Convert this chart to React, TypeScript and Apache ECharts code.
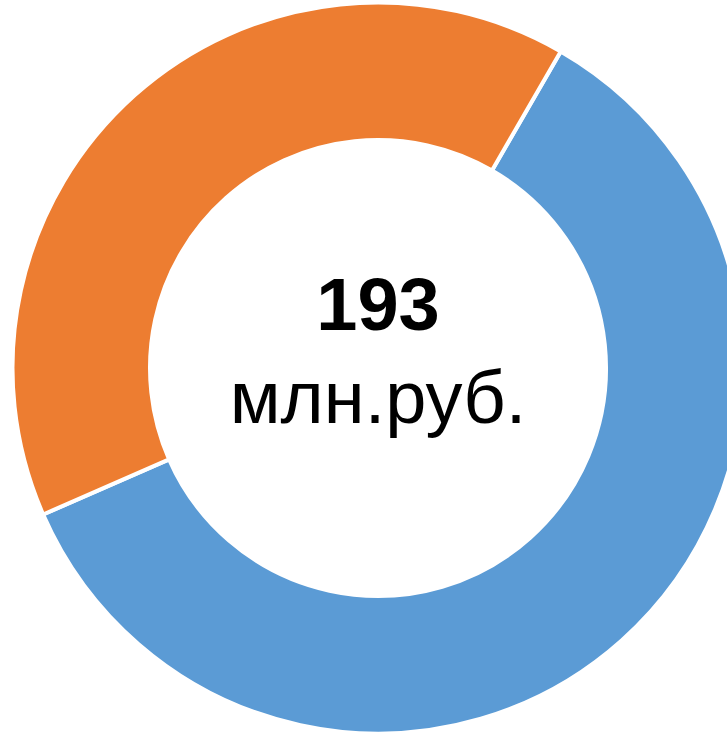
import React, { useEffect, useRef } from "react";
import * as echarts from "echarts";

const categories = ["Категория 1", "Категория 2"];
const values = [116, 77];
const colors = ["#5B9BD5", "#ED7D31"];
const totalLabel = "193";
const unitLabel = "млн.руб.";

export default function App() {
  const ref = useRef<HTMLDivElement>(null);
  useEffect(() => {
    if (!ref.current) return;
    const chart = echarts.init(ref.current, undefined, { renderer: "svg" });
    chart.setOption({
      animation: false,
      backgroundColor: "#ffffff",
      graphic: [
        {
          type: "text",
          x: 378,
          y: 304,
          style: {
            text: totalLabel,
            font: "bold 74px 'Liberation Sans', Arial, sans-serif",
            fill: "#000000",
            textAlign: "center",
            textVerticalAlign: "middle",
          },
        },
        {
          type: "text",
          x: 378,
          y: 397,
          style: {
            text: unitLabel,
            font: "74px 'Liberation Sans', Arial, sans-serif",
            fill: "#000000",
            textAlign: "center",
            textVerticalAlign: "middle",
          },
        },
      ],
      series: [
        {
          type: "pie",
          center: [378, 368],
          radius: [228, 365.5],
          startAngle: 60,
          clockwise: true,
          label: { show: false },
          labelLine: { show: false },
          emphasis: { disabled: true },
          itemStyle: { borderColor: "#ffffff", borderWidth: 4 },
          data: categories.map((name, i) => ({
            name,
            value: values[i],
            itemStyle: { color: colors[i] },
          })),
        },
      ],
    });
    return () => chart.dispose();
  }, []);
  return (
    <div
      ref={ref}
      style={{ position: "absolute", left: 0, top: 0, width: 727, height: 733 }}
    />
  );
}
